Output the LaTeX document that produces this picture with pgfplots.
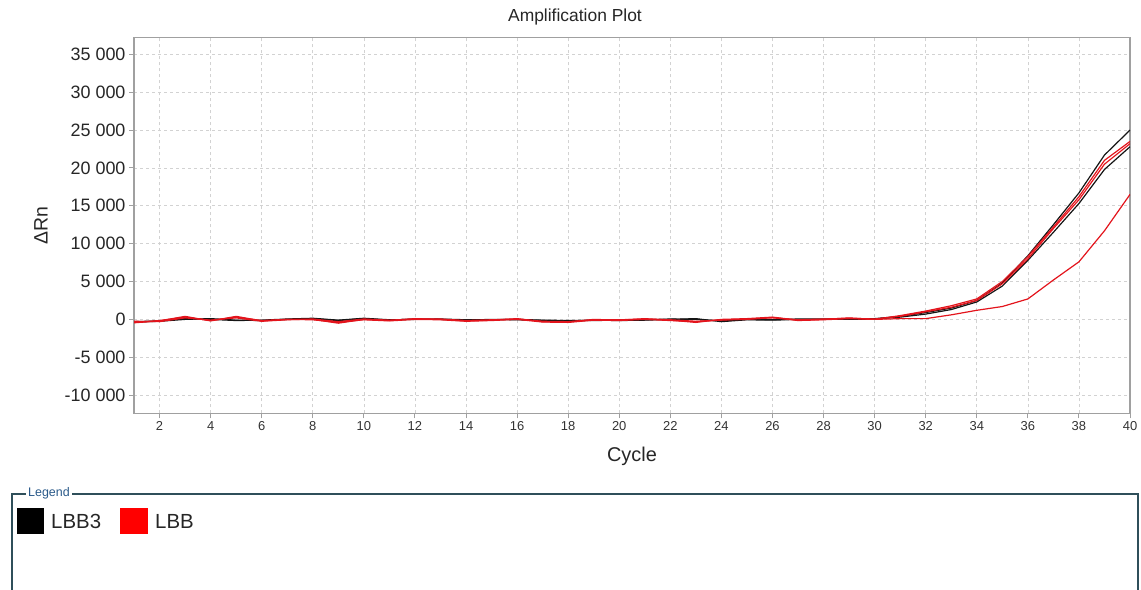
\documentclass[border=0pt]{standalone}
\usepackage{fontspec}
\setmainfont{Liberation Sans}
\usepackage{pgfplots}
\pgfplotsset{compat=1.18}
\definecolor{axgray}{HTML}{A0A0A0}
\definecolor{gridgray}{HTML}{D2D2D2}
\definecolor{lgdblue}{HTML}{2A5A8A}
\definecolor{boxcol}{HTML}{2F4F5A}
\definecolor{cred}{HTML}{E3141C}
\definecolor{cblack}{HTML}{151515}
\begin{document}
\begin{tikzpicture}[x=1bp,y=1bp]
\path[use as bounding box] (0,0) rectangle (1141,590);
\begin{axis}[
  at={(134bp,176.7bp)}, anchor=south west,
  scale only axis, width=996bp, height=375.6bp,
  xmin=1, xmax=40, ymin=-12400, ymax=37200,
  xtick={2,4,...,40},
  ytick={-10000,-5000,...,35000},
  yticklabels={-10 000,-5 000,0,5 000,10 000,15 000,20 000,25 000,30 000,35 000},
  scaled y ticks=false,
  xtick pos=bottom, ytick pos=left,
  tick align=outside,
  major tick length=5bp,
  tick style={axgray, line width=1bp},
  axis line style={axgray, line width=1.4bp},
  grid=major,
  major grid style={gridgray, dash pattern=on 3bp off 3bp, line width=0.6bp},
  /pgf/number format/assume math mode=true,
  xticklabel style={font=\fontsize{13}{15}\selectfont, text=black!80},
  yticklabel style={font=\fontsize{18}{20}\selectfont, text=black!85},
  clip=true,
]
% LBB3 (black)
\addplot[cblack, line width=1.2bp] coordinates {
(1,-350)(2,-250)(3,0)(4,100)(5,-100)(6,-150)(7,0)(8,100)(9,-150)(10,100)
(11,-100)(12,50)(13,0)(14,-100)(15,0)(16,-50)(17,-150)(18,-200)(19,-100)(20,-150)
(21,-100)(22,0)(23,100)(24,-300)(25,-50)(26,-100)(27,0)(28,0)(29,0)(30,100)
(31,400)(32,900)(33,1500)(34,2500)(35,4800)(36,8400)(37,12500)(38,16700)(39,21700)(40,25000)};
\addplot[cblack, line width=1.2bp] coordinates {
(1,-300)(2,-200)(3,100)(4,0)(5,-150)(6,-100)(7,50)(8,150)(9,-100)(10,150)
(11,-50)(12,0)(13,50)(14,-50)(15,-50)(16,0)(17,-100)(18,-150)(19,-150)(20,-100)
(21,-50)(22,50)(23,0)(24,-200)(25,0)(26,-50)(27,50)(28,50)(29,0)(30,50)
(31,300)(32,700)(33,1300)(34,2300)(35,4400)(36,7800)(37,11500)(38,15300)(39,19800)(40,22800)};
% LBB (red)
\addplot[cred, line width=1.2bp] coordinates {
(1,-450)(2,-200)(3,400)(4,-200)(5,400)(6,-200)(7,0)(8,0)(9,-500)(10,0)
(11,-150)(12,100)(13,0)(14,-200)(15,-100)(16,100)(17,-300)(18,-350)(19,0)(20,-100)
(21,100)(22,-100)(23,-400)(24,0)(25,100)(26,300)(27,-100)(28,0)(29,200)(30,0)
(31,500)(32,1100)(33,1800)(34,2700)(35,5000)(36,8300)(37,12200)(38,16200)(39,21000)(40,23500)};
\addplot[cred, line width=1.2bp] coordinates {
(1,-250)(2,-300)(3,200)(4,-100)(5,200)(6,-250)(7,-50)(8,50)(9,-300)(10,50)
(11,-100)(12,50)(13,50)(14,-150)(15,-50)(16,50)(17,-250)(18,-300)(19,-50)(20,-50)
(21,50)(22,-50)(23,-250)(24,-100)(25,50)(26,200)(27,-50)(28,50)(29,150)(30,50)
(31,400)(32,1000)(33,1600)(34,2500)(35,4700)(36,8000)(37,12000)(38,15800)(39,20500)(40,23200)};
\addplot[cred, line width=1.2bp] coordinates {
(1,-400)(2,-150)(3,300)(4,-150)(5,300)(6,-150)(7,0)(8,-50)(9,-400)(10,-50)
(11,-200)(12,0)(13,-50)(14,-250)(15,-150)(16,0)(17,-350)(18,-400)(19,-100)(20,-150)
(21,0)(22,-150)(23,-300)(24,-50)(25,0)(26,250)(27,-150)(28,-50)(29,100)(30,0)
(31,100)(32,100)(33,600)(34,1200)(35,1700)(36,2700)(37,5200)(38,7600)(39,11700)(40,16500)};
\end{axis}
% titles
\node[font=\fontsize{17.5}{20}\selectfont, text=black!85] at (575,573) {Amplification Plot};
\node[font=\fontsize{20}{22}\selectfont, text=black!85] at (632,134) {Cycle};
\node[font=\fontsize{19.5}{22}\selectfont, text=black!85, rotate=90] at (41,364) {ΔRn};
% legend panel
\draw[boxcol, line width=1.2bp] (12,0) -- (12,96) -- (1138,96) -- (1138,0);
\node[fill=white, inner sep=2bp, font=\fontsize{12.5}{14}\selectfont, text=lgdblue] at (49,97) {Legend};
\fill[black] (17,56) rectangle (44,82);
\node[anchor=west, inner sep=0pt, font=\fontsize{20.5}{22}\selectfont, text=black!85] at (51,69) {LBB3};
\fill[red] (120,56) rectangle (148,82);
\node[anchor=west, inner sep=0pt, font=\fontsize{20.5}{22}\selectfont, text=black!85] at (155,69) {LBB};
\end{tikzpicture}
\end{document}
